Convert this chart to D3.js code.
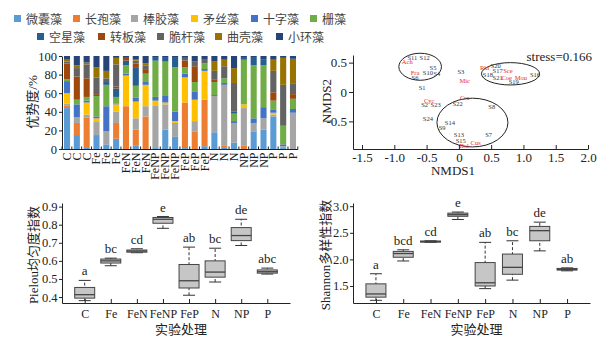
<!DOCTYPE html>
<html>
<head>
<meta charset="utf-8">
<style>
  body { margin: 0; background: #fff; }
  text { font-family: "Liberation Serif", "Times New Roman", "Noto Sans CJK SC", serif; fill: #222; }
  .cjk { font-family: "Liberation Serif", "Noto Sans CJK SC", sans-serif; }
  .legend text { font-family: "Noto Sans CJK SC", sans-serif; font-size: 12px; fill: #444; }
  .axis path, .axis line { stroke: #222; }
</style>
<script src="https://cdn.jsdelivr.net/npm/d3@7"></script>
</head>
<body>
<div id="chart"></div>
<script>
// ---- algae composition (relative dominance, %) ----
var species = ["微囊藻","长孢藻","棒胶藻","矛丝藻","十字藻","栅藻","空星藻","转板藻","脆杆藻","曲壳藻","小环藻"];
var speciesColors = ["#5B9BD5","#ED7D31","#A5A5A5","#FFC000","#4472C4","#70AD47","#255E91","#9E480E","#636363","#997300","#264478"];
var samples = ["C","C","C","Fe","Fe","Fe","FeN","FeN","FeN","FeNP","FeNP","FeNP",
               "FeP","FeP","FeP","N","N","N","NP","NP","NP","P","P","P"];

var weinang   = [44,15,2,15,5,11,0,4,0,1,21,13,1,0,3,18,2,7,0,19,21,35,1,0];
var changbao  = [3,13,32,0,0,17,46,17,35,0,0,0,49,19,50,0,2,0,4,0,0,0,0,0];
var bangjiao  = [2,6,3,14,14,12,0,12,11,46,27,15,0,11,0,39,65,21,40,9,12,2,2,39];
var maosi     = [11,0,13,4,0,8,33,18,23,5,2,2,27,23,31,0,0,0,4,0,0,2,0,0];
var shizi     = [13,14,2,2,27,1,2,4,3,4,7,10,4,9,2,1,2,2,0,5,12,3,2,4];
var shan      = [2,5,4,22,23,7,9,13,9,39,37,48,7,10,6,14,5,8,48,57,45,10,20,11];
var kongxing  = [0,0,0,0,3,9,5,20,0,3,4,10,0,0,0,0,0,2,2,8,6,0,0,0];
var zhuanban  = [17,25,20,2,0,2,3,4,4,0,0,0,7,17,0,3,0,0,0,0,0,9,0,5];
var cuigan    = [2,9,15,18,4,24,0,3,5,0,0,0,3,5,4,9,13,31,0,0,0,23,44,11];
var quke      = [2,3,2,11,8,7,0,1,2,0,0,0,0,0,0,10,7,16,0,0,0,12,29,27];
var xiaohuan  = [4,10,7,12,16,2,2,4,8,2,2,2,2,6,4,6,4,13,2,2,4,4,2,3];
var speciesSeries = [weinang, changbao, bangjiao, maosi, shizi, shan, kongxing, zhuanban, cuigan, quke, xiaohuan];

// ---- NMDS ordination ----
var sampleNames = ["S1","S2","S3","S4","S5","S6","S7","S8","S9","S10","S11","S12",
                   "S13","S14","S15","S16","S17","S18","S19","S20","S21","S22","S23","S24"];
var sampleX = [-0.57,-0.53,0.03,-0.34,-0.40,-0.68,0.46,0.51,-0.26,-0.48,-0.72,-0.53,
               0.00,-0.14,0.03,1.18,0.60,0.45,0.85,0.57,0.60,-0.02,-0.36,-0.48];
var sampleY = [0.07,-0.22,0.34,0.31,0.41,0.24,-0.73,-0.25,-0.61,0.32,0.58,0.59,
               -0.73,-0.53,-0.83,0.30,0.36,0.30,0.17,0.44,0.25,-0.20,-0.22,-0.46];
var genusNames = ["Ach","Fra","Mic","Rhi","Sce","Coe","Mou","Cyc","Cra","Cus","Dol"];
var genusX = [-0.80,-0.68,0.09,0.40,0.76,0.74,0.96,-0.46,0.09,0.26,0.08];
var genusY = [0.51,0.32,0.20,0.41,0.37,0.25,0.25,-0.14,-0.10,-0.87,-0.92];
// group ellipses: centre x, centre y, semi-axis x, semi-axis y (NMDS units)
var groupCx = [-0.60, 0.80, 0.21];
var groupCy = [0.43, 0.31, -0.52];
var groupRx = [0.33, 0.45, 0.55];
var groupRy = [0.23, 0.19, 0.415];
var stress = 0.166;

// ---- diversity indices: [min, q1, median, q3, max] ----
var treatments = ["C","Fe","FeN","FeNP","FeP","N","NP","P"];
var pielou = [
  [0.380,0.394,0.413,0.453,0.492],
  [0.573,0.588,0.600,0.610,0.615],
  [0.645,0.648,0.654,0.660,0.667],
  [0.780,0.808,0.830,0.840,0.845],
  [0.410,0.450,0.490,0.580,0.676],
  [0.483,0.510,0.538,0.600,0.670],
  [0.685,0.712,0.740,0.784,0.830],
  [0.527,0.532,0.540,0.550,0.560]
];
var pielouLetters = ["a","bc","cd","e","ab","bc","de","abc"];
var shannon = [
  [1.23,1.29,1.35,1.54,1.73],
  [1.97,2.04,2.11,2.15,2.18],
  [2.32,2.325,2.335,2.345,2.35],
  [2.75,2.81,2.84,2.87,2.89],
  [1.45,1.50,1.56,1.94,2.32],
  [1.61,1.72,1.85,2.10,2.35],
  [2.16,2.35,2.54,2.62,2.70],
  [1.785,1.80,1.81,1.83,1.84]
];
var shannonLetters = ["a","bcd","cd","e","ab","bc","de","ab"];

var svg = d3.select("#chart").append("svg")
  .attr("width", 607).attr("height", 343);

/* ---------- legend ---------- */
var legendRows = [
  { y: 19, items: [0,1,2,3,4,5], xs: [14,73,131,191,251,310] },
  { y: 37, items: [6,7,8,9,10],  xs: [37,98,157,215,276] }
];
var legend = svg.append("g").attr("class", "legend");
legendRows.forEach(function(row) {
  row.items.forEach(function(k, j) {
    legend.append("rect")
      .attr("x", row.xs[j]).attr("y", row.y - 4)
      .attr("width", 7).attr("height", 7)
      .attr("fill", speciesColors[k]);
    legend.append("text")
      .attr("x", row.xs[j] + 12).attr("y", row.y + 4.5)
      .text(species[k]);
  });
});

/* ---------- stacked bars ---------- */
var barX = d3.scaleBand().domain(d3.range(samples.length)).range([62, 298]).paddingInner(0.38).paddingOuter(0.2);
var barY = d3.scaleLinear().domain([0, 100]).range([149, 56]);

var rows = samples.map(function(s, i) {
  var r = { idx: i };
  species.forEach(function(sp, k) { r[sp] = speciesSeries[k][i]; });
  return r;
});
var stack = d3.stack().keys(species)(rows);

var gBar = svg.append("g");
gBar.selectAll("g.layer").data(stack).enter().append("g")
  .attr("fill", function(d, k) { return speciesColors[k]; })
  .selectAll("rect").data(function(d) { return d; }).enter().append("rect")
  .attr("x", function(d) { return barX(d.data.idx); })
  .attr("width", barX.bandwidth())
  .attr("y", function(d) { return barY(d[1]); })
  .attr("height", function(d) { return barY(d[0]) - barY(d[1]); });

gBar.append("g").attr("class", "axis")
  .attr("transform", "translate(62,0)")
  .call(d3.axisLeft(barY).tickValues([0,20,40,60,80,100]).tickSize(3).tickPadding(2).tickSizeOuter(0))
  .call(function(g) { g.selectAll("text").style("font-size", "12.5px"); });

var barAxisX = gBar.append("g").attr("transform", "translate(0,149.5)");
barAxisX.append("line").attr("x1", 62).attr("x2", 298).attr("stroke", "#222");
barAxisX.selectAll("line.tk").data(d3.range(samples.length + 1)).enter().append("line")
  .attr("class", "tk")
  .attr("x1", function(i) { return 62 + i * barX.step(); })
  .attr("x2", function(i) { return 62 + i * barX.step(); })
  .attr("y1", 0).attr("y2", -3).attr("stroke", "#222");
barAxisX.selectAll("text").data(samples).enter().append("text")
  .attr("transform", function(d, i) {
    return "translate(" + (barX(i) + barX.bandwidth() / 2 + 4) + ",3) rotate(-90)";
  })
  .attr("text-anchor", "end")
  .style("font-size", "12px")
  .text(function(d) { return d; });

svg.append("text").attr("class", "cjk")
  .attr("transform", "translate(37,102) rotate(-90)")
  .attr("text-anchor", "middle").style("font-size", "13px")
  .text("优势度/%");

/* ---------- NMDS ---------- */
var nx = d3.scaleLinear().domain([-1.64, 2.0]).range([353, 588]);
var ny = d3.scaleLinear().domain([-0.97, 0.63]).range([149, 55]);

var gN = svg.append("g");
gN.append("g").attr("class", "axis")
  .attr("transform", "translate(0,149)")
  .call(d3.axisBottom(nx).tickValues([-1.5,-1,-0.5,0,0.5,1,1.5,2]).tickSize(-4).tickSizeOuter(0)
    .tickFormat(function(d) { return d === 0 ? "0" : d.toFixed(1); }))
  .call(function(g) {
    g.selectAll("text").style("font-size", "13px").attr("y", 4).attr("dy", "0.72em");
  });
gN.append("g").attr("class", "axis")
  .attr("transform", "translate(353,0)")
  .call(d3.axisLeft(ny).tickValues([-0.5,0,0.5]).tickSize(4).tickPadding(2).tickSizeOuter(0)
    .tickFormat(function(d) { return d === 0 ? "0" : d.toFixed(1); }))
  .call(function(g) { g.selectAll("text").style("font-size", "13px"); });

gN.selectAll("ellipse").data(groupCx).enter().append("ellipse")
  .attr("cx", function(d) { return nx(d); })
  .attr("cy", function(d, i) { return ny(groupCy[i]); })
  .attr("rx", function(d, i) { return nx(groupRx[i]) - nx(0); })
  .attr("ry", function(d, i) { return ny(0) - ny(groupRy[i]); })
  .attr("fill", "none").attr("stroke", "#222").attr("stroke-width", 1);

gN.selectAll("text.smp").data(sampleNames).enter().append("text")
  .attr("class", "smp")
  .attr("x", function(d, i) { return nx(sampleX[i]); })
  .attr("y", function(d, i) { return ny(sampleY[i]); })
  .attr("dy", "0.35em").attr("text-anchor", "middle")
  .style("font-size", "6.5px").style("fill", "#333")
  .text(function(d) { return d; });
gN.selectAll("text.gen").data(genusNames).enter().append("text")
  .attr("class", "gen")
  .attr("x", function(d, i) { return nx(genusX[i]); })
  .attr("y", function(d, i) { return ny(genusY[i]); })
  .attr("dy", "0.35em").attr("text-anchor", "middle")
  .style("font-size", "6.5px").style("fill", "#e8282b")
  .text(function(d) { return d; });

gN.append("text").attr("x", 592).attr("y", 61).attr("text-anchor", "end")
  .style("font-size", "13px").text("stress=" + stress);
gN.append("text").attr("x", 453).attr("y", 175).attr("text-anchor", "middle")
  .style("font-size", "13px").text("NMDS1");
gN.append("text").attr("transform", "translate(331,101) rotate(-90)")
  .attr("text-anchor", "middle").style("font-size", "13px").text("NMDS2");

/* ---------- box plots ---------- */
function boxPanel(opt) {
  var x = d3.scalePoint().domain(treatments).range(opt.xr).padding(opt.pad);
  var y = d3.scaleLinear().domain(opt.yd).range([303, 203]);
  var g = svg.append("g");
  var half = 10, cap = 6;

  g.append("g").attr("class", "axis")
    .attr("transform", "translate(" + opt.xr[0] + ",0)")
    .call(d3.axisLeft(y).tickValues(opt.ticks).tickSize(3).tickPadding(1.5).tickSizeOuter(0).tickFormat(d3.format(".1f")))
    .call(function(a) { a.selectAll("text").style("font-size", "12.5px"); });
  g.append("g").attr("class", "axis")
    .attr("transform", "translate(0,303)")
    .call(d3.axisBottom(x).tickSize(-4).tickSizeOuter(0))
    .call(function(a) { a.selectAll("text").style("font-size", "12px").attr("y", 4).attr("dy", "0.9em"); });

  var b = g.selectAll("g.box").data(opt.stats).enter().append("g")
    .attr("transform", function(d, i) { return "translate(" + x(treatments[i]) + ",0)"; });
  b.append("line")
    .attr("y1", function(d) { return y(d[0]); }).attr("y2", function(d) { return y(d[4]); })
    .attr("stroke", "#333").attr("stroke-dasharray", "3,2");
  b.append("line").attr("x1", -cap).attr("x2", cap)
    .attr("y1", function(d) { return y(d[4]); }).attr("y2", function(d) { return y(d[4]); })
    .attr("stroke", "#333");
  b.append("line").attr("x1", -cap).attr("x2", cap)
    .attr("y1", function(d) { return y(d[0]); }).attr("y2", function(d) { return y(d[0]); })
    .attr("stroke", "#333");
  b.append("rect").attr("x", -half).attr("width", half * 2)
    .attr("y", function(d) { return y(d[3]); })
    .attr("height", function(d) { return Math.max(1, y(d[1]) - y(d[3])); })
    .attr("fill", "#c6c6c6").attr("stroke", "#444");
  b.append("line").attr("x1", -half).attr("x2", half)
    .attr("y1", function(d) { return y(d[2]); }).attr("y2", function(d) { return y(d[2]); })
    .attr("stroke", "#444").attr("stroke-width", 1.3);
  b.append("text").attr("text-anchor", "middle")
    .attr("y", function(d) { return y(d[4]) - 5; })
    .style("font-size", "13px")
    .text(function(d, i) { return opt.letters[i]; });

  svg.append("text").attr("class", "cjk")
    .attr("x", (opt.xr[0] + opt.xr[1]) / 2 + 5).attr("y", 334)
    .attr("text-anchor", "middle").style("font-size", "13px").text("实验处理");
  svg.append("text").attr("class", "cjk")
    .attr("transform", "translate(" + opt.labelX + ",255) rotate(-90)")
    .attr("text-anchor", "middle").style("font-size", "13px").text(opt.label);
}

boxPanel({ xr: [62, 290], pad: 0.87, yd: [0.367, 0.92], ticks: [0.4,0.5,0.6,0.7,0.8,0.9],
           stats: pielou, letters: pielouLetters, label: "Pielou均匀度指数", labelX: 38 });
boxPanel({ xr: [353, 590], pad: 0.84, yd: [1.18, 3.06], ticks: [1.5,2.0,2.5,3.0],
           stats: shannon, letters: shannonLetters, label: "Shannon多样性指数", labelX: 330 });
</script>
</body>
</html>
